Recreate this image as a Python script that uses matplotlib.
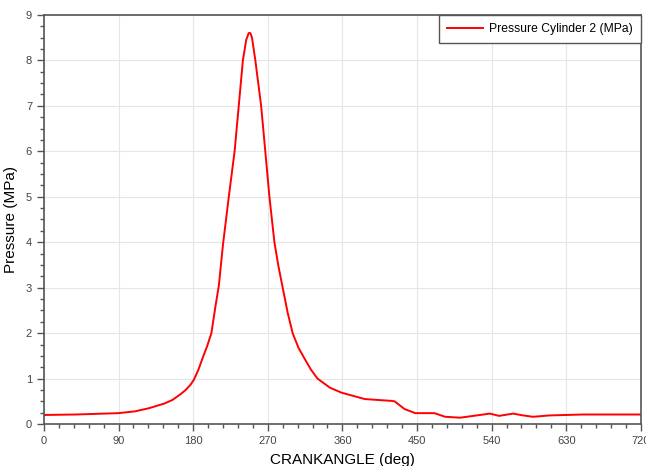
import matplotlib.pyplot as plt
import numpy as np
from matplotlib.ticker import MultipleLocator

plt.rcParams['font.family'] = ['Liberation Sans', 'DejaVu Sans']

# crank angle (deg) and cylinder pressure (MPa)
crank = [0, 38, 90, 110, 127, 145, 155, 165, 171, 177, 181, 186, 192, 197, 202, 207, 211, 216, 223,
         230, 235, 240, 244, 247, 249, 251, 255, 262, 267, 272, 278, 283, 288, 294, 300, 307, 315,
         322, 330, 345, 359, 387, 419, 423, 435, 448, 471, 484, 502, 514, 538, 549, 566, 578,
         590, 610, 650, 714, 720]
pressure = [0.2, 0.21, 0.24, 0.28, 0.35, 0.45, 0.53, 0.66, 0.75, 0.87, 0.98, 1.18, 1.48, 1.72, 2.0, 2.6, 3.05, 3.95, 5.0,
            6.0, 7.0, 8.0, 8.45, 8.6, 8.6, 8.5, 8.0, 7.0, 6.0, 5.0, 4.0, 3.46, 3.0, 2.45, 2.0, 1.68, 1.42,
            1.2, 1.0, 0.8, 0.69, 0.55, 0.51, 0.5, 0.33, 0.24, 0.24, 0.16, 0.14, 0.17, 0.23, 0.18, 0.23, 0.19,
            0.16, 0.19, 0.21, 0.21, 0.21]

fig = plt.figure(figsize=(6.46, 4.66), dpi=100)
ax = fig.add_axes([0.068, 0.090, 0.924, 0.878])

ax.plot(crank, pressure, color='red', linewidth=1.4, label='Pressure Cylinder 2 (MPa)')

ax.set_xlim(0, 720)
ax.set_ylim(0, 9)
ax.xaxis.set_major_locator(MultipleLocator(90))
ax.xaxis.set_minor_locator(MultipleLocator(18))
ax.yaxis.set_major_locator(MultipleLocator(1))
ax.yaxis.set_minor_locator(MultipleLocator(0.25))
ax.grid(True, which='major', color='#e6e6e6', linewidth=0.8)

for s in ax.spines.values():
    s.set_color('#555555')
    s.set_linewidth(1.2)
ax.tick_params(which='major', length=5, width=1.0, color='#555555', labelsize=8, labelcolor='#444444')
ax.tick_params(which='minor', length=3, width=1.0, color='#555555')

ax.set_xlabel('CRANKANGLE (deg)', fontsize=11, labelpad=5)
ax.set_ylabel('Pressure (MPa)', fontsize=11, labelpad=6)

leg = ax.legend(loc='upper right', borderaxespad=0, fontsize=8.7, fancybox=False,
                edgecolor='#555555', framealpha=1, handlelength=3.0, handletextpad=0.5,
                borderpad=0.65)
leg.get_frame().set_linewidth(1.0)

fig.savefig('out.png', dpi=100)
